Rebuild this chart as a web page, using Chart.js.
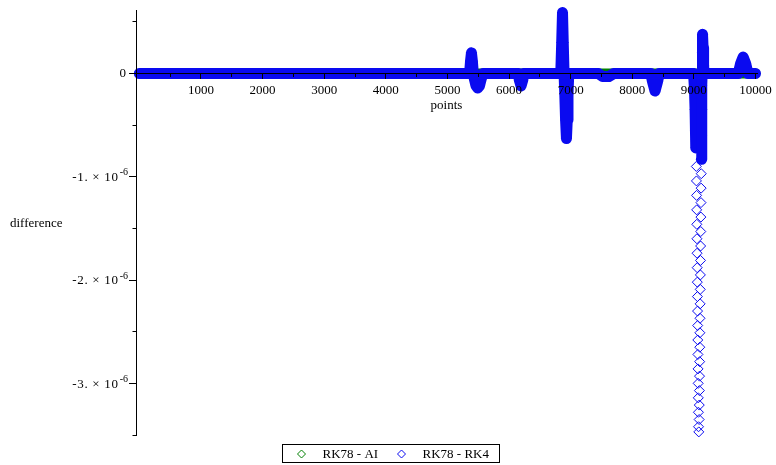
<!DOCTYPE html>
<html><head><meta charset="utf-8">
<script src="https://cdn.jsdelivr.net/npm/chart.js@4/dist/chart.umd.min.js"></script>
<style>html,body{margin:0;padding:0;background:#fff;overflow:hidden}canvas{display:block}</style>
</head><body>
<canvas id="c" width="776" height="465"></canvas>
<script>
// ---- data ----
const seriesLabels = ['RK78 - AI', 'RK78 - RK4'];

const aiX = [0, 1000, 2000, 3000, 4000, 5000, 5500, 6000, 6200, 6500, 7000, 7500, 8000, 8370, 9000, 9500, 9780, 10000];
const aiY = [0, 0, 0, 0, 0, 0, 0, 0, 0, 0, 0, 0, 0, 0, 0, 0, 0, 0];

const rk4X = [
  0, 500, 1000, 1500, 2000, 2500, 3000, 3500, 4000, 4500, 5000,
  5360, 5375, 5390, 5405, 5420, 5440, 5465, 5492, 5520, 5550, 5580,
  5800, 6000, 6150, 6170, 6195, 6220, 6240, 6500, 6700,
  6840, 6855, 6868, 6880, 6893, 6905, 6918, 6932, 6945, 6957, 6970,
  7200, 7450, 7520, 7620, 7700, 8000,
  8300, 8330, 8370, 8410, 8440, 8700,
  8990, 9000, 9010, 9020, 9028, 9034,
  9040, 9042, 9044, 9046, 9048, 9050, 9052, 9054, 9056, 9058,
  9060, 9062, 9064, 9066, 9068, 9070, 9072, 9074, 9076, 9080,
  9086, 9088, 9090, 9092, 9094, 9096, 9098, 9100, 9102, 9104,
  9106, 9108, 9110, 9112, 9114, 9116, 9118, 9120, 9122,
  9125, 9128, 9131, 9134, 9138, 9143, 9150, 9158, 9166,
  9400, 9720, 9760, 9800, 9840, 9880, 10000
];
const rk4Y = [
  0, 0, 0, 0, 0, 0, 0, 0, 0, 0, 0,
  0, 1.2e-7, 2.0e-7, 1.2e-7, 0, -6e-8, -1.2e-7, -1.4e-7, -1.2e-7, -5e-8, 0,
  0, 0, 0, -7e-8, -1.2e-7, -7e-8, 0, 0, 0,
  0, 3.0e-7, 5.9e-7, 3.0e-7, 0, -2.0e-7, -4.5e-7, -6.3e-7, -4.5e-7, -2.0e-7, 0,
  0, 0, -3e-8, -3e-8, 0, 0,
  0, -8e-8, -1.7e-7, -8e-8, 0, 0,
  0, -5e-8, -1.5e-7, -3.5e-7, -5.5e-7, -7.2e-7,
  -9.0e-7, -1.04e-6, -1.18e-6, -1.32e-6, -1.46e-6, -1.60e-6, -1.74e-6, -1.88e-6, -2.02e-6, -2.16e-6,
  -2.30e-6, -2.44e-6, -2.58e-6, -2.72e-6, -2.86e-6, -3.00e-6, -3.14e-6, -3.28e-6, -3.42e-6, -3.47e-6,
  -3.35e-6, -3.21e-6, -3.07e-6, -2.93e-6, -2.79e-6, -2.65e-6, -2.51e-6, -2.37e-6, -2.23e-6, -2.09e-6,
  -1.95e-6, -1.81e-6, -1.67e-6, -1.53e-6, -1.39e-6, -1.25e-6, -1.11e-6, -9.7e-7, -8.3e-7,
  -6.0e-7, -3.5e-7, -1.2e-7, 0, 2.0e-7, 3.8e-7, 2.5e-7, 8e-8, 0,
  0, 0, 1.0e-7, 1.6e-7, 1.0e-7, 0, 0
];

// tick marks and labels
const xMajorTicks = [1000, 2000, 3000, 4000, 5000, 6000, 7000, 8000, 9000, 10000];
const xMajorLabels = ['1000', '2000', '3000', '4000', '5000', '6000', '7000', '8000', '9000', '10000'];
const xMinorTicks = [500, 1500, 2500, 3500, 4500, 5500, 6500, 7500, 8500, 9500];
const yMajorTicks = [0, -1e-6, -2e-6, -3e-6];
const yMinorTicks = [0.5e-6, -0.5e-6, -1.5e-6, -2.5e-6, -3.5e-6];
const yLabelMantissa = ['0', '-1. \u00d7 10', '-2. \u00d7 10', '-3. \u00d7 10'];
const yLabelExponent = ['', '-6', '-6', '-6'];
const xTitle = 'points';
const yTitle = 'difference';

// ---- styles ----
const GREEN = 'rgb(0,128,0)';
const BLUE = 'rgb(10,10,240)';
const FONT = '"Liberation Serif", "Times New Roman", serif';
const hollowBelow = -8.5e-7;
const X_MIN = -55, X_MAX = 10025, Y_MIN = -3.5e-6, Y_MAX = 6.13e-7;

function pts(xs, ys) { return xs.map((x, i) => ({x: x, y: ys[i]})); }

const textPlugin = {
  id: 'mapleText',
  afterDraw(chart) {
    const {ctx, chartArea, scales} = chart;
    const y = scales.y;
    ctx.save();
    ctx.fillStyle = '#000';
    ctx.textBaseline = 'middle';
    const xr = chartArea.left - 8;
    yMajorTicks.forEach((v, i) => {
      const py = y.getPixelForValue(v);
      ctx.textAlign = 'right';
      if (yLabelExponent[i]) {
        ctx.font = '10px ' + FONT;
        ctx.fillText(yLabelExponent[i], xr, py - 4);
        const w = ctx.measureText(yLabelExponent[i]).width;
        ctx.font = '13px ' + FONT;
        ctx.letterSpacing = '0.7px';
        ctx.fillText(yLabelMantissa[i], xr - w - 1, py + 1);
        ctx.letterSpacing = '0px';
      } else {
        ctx.font = '13px ' + FONT;
        ctx.fillText(yLabelMantissa[i], xr - 2, py);
      }
    });
    // y title (horizontal)
    ctx.font = '13px ' + FONT;
    ctx.textAlign = 'left';
    ctx.fillText(yTitle, 10, (chartArea.top + chartArea.bottom) / 2 + 1);

    // legend box
    const bx = 282.5, by = 444.5, bw = 217, bh = 18, cy = 454;
    ctx.strokeStyle = '#000';
    ctx.lineWidth = 1;
    ctx.strokeRect(bx, by, bw, bh);
    const cols = [GREEN, BLUE];
    const mx = [bx + 19, bx + 119];
    seriesLabels.forEach((lab, i) => {
      const cx = mx[i];
      ctx.beginPath();
      ctx.moveTo(cx, cy - 4); ctx.lineTo(cx + 4, cy); ctx.lineTo(cx, cy + 4); ctx.lineTo(cx - 4, cy); ctx.closePath();
      ctx.strokeStyle = cols[i];
      ctx.stroke();
      ctx.fillStyle = '#000';
      ctx.textAlign = 'left';
      ctx.fillText(lab, cx + 21, cy + 1);
    });
    ctx.restore();
  }
};

new Chart(document.getElementById('c'), {
  type: 'scatter',
  data: {
    datasets: [
      {
        label: seriesLabels[0],
        data: pts(aiX, aiY),
        showLine: true,
        borderColor: GREEN,
        borderWidth: 10,
        borderJoinStyle: 'round',
        borderCapStyle: 'round',
        pointStyle: 'rectRot',
        pointRadius: 4,
        pointBorderWidth: 1,
        pointBorderColor: GREEN,
        pointBackgroundColor: 'rgba(0,0,0,0)',
        order: 2,
        clip: false
      },
      {
        label: seriesLabels[1],
        data: pts(rk4X, rk4Y),
        showLine: true,
        borderColor: BLUE,
        borderWidth: 11,
        borderJoinStyle: 'round',
        borderCapStyle: 'round',
        pointStyle: 'rectRot',
        pointRadius: 5,
        pointBorderWidth: 1,
        pointBorderColor: BLUE,
        pointBackgroundColor: 'rgba(0,0,0,0)',
        order: 1,
        clip: false,
        segment: {
          borderColor: c => Math.min(rk4Y[c.p0DataIndex], rk4Y[c.p1DataIndex]) < hollowBelow ? 'rgba(0,0,0,0)' : BLUE
        }
      }
    ]
  },
  options: {
    responsive: false,
    animation: false,
    devicePixelRatio: 1,
    layout: {padding: {left: 0, right: 19, top: 10, bottom: 30}},
    plugins: {legend: {display: false}, tooltip: {enabled: false}},
    scales: {
      x: {
        type: 'linear',
        position: {y: 0},
        min: X_MIN,
        max: X_MAX,
        border: {color: '#000', width: 1, z: 1},
        grid: {drawOnChartArea: false, drawTicks: true, tickLength: 5, color: '#000', z: 1},
        afterBuildTicks: s => { s.ticks = xMajorTicks.map(v => ({value: v})); },
        ticks: {
          z: 1,
          autoSkip: false,
          maxRotation: 0,
          padding: 4,
          color: '#000',
          font: {family: FONT, size: 13},
          callback: (v, i) => xMajorLabels[i]
        },
        title: {display: true, text: xTitle, color: '#000', font: {family: FONT, size: 13}, padding: {top: -4, bottom: 0}}
      },
      xMinor: {
        type: 'linear',
        position: {y: 0},
        min: X_MIN,
        max: X_MAX,
        border: {display: false, z: 1},
        grid: {drawOnChartArea: false, drawTicks: true, tickLength: 3, color: '#000', z: 1},
        afterBuildTicks: s => { s.ticks = xMinorTicks.map(v => ({value: v})); },
        ticks: {z: 1, display: false}
      },
      y: {
        type: 'linear',
        position: 'left',
        min: Y_MIN,
        max: Y_MAX,
        afterFit: s => { s.width = 136; },
        afterBuildTicks: s => { s.ticks = yMajorTicks.map(v => ({value: v})); },
        border: {color: '#000', width: 1, z: 1},
        grid: {drawOnChartArea: false, drawTicks: true, tickLength: 7, color: '#000', z: 1},
        ticks: {callback: () => ''}
      },
      yMinor: {
        type: 'linear',
        position: {x: X_MIN},
        min: Y_MIN,
        max: Y_MAX,
        afterBuildTicks: s => { s.ticks = yMinorTicks.map(v => ({value: v})); },
        border: {display: false, z: 1},
        grid: {drawOnChartArea: false, drawTicks: true, tickLength: 3.5, color: '#000', z: 1},
        ticks: {display: false}
      }
    }
  },
  plugins: [textPlugin]
});
</script>
</body></html>
